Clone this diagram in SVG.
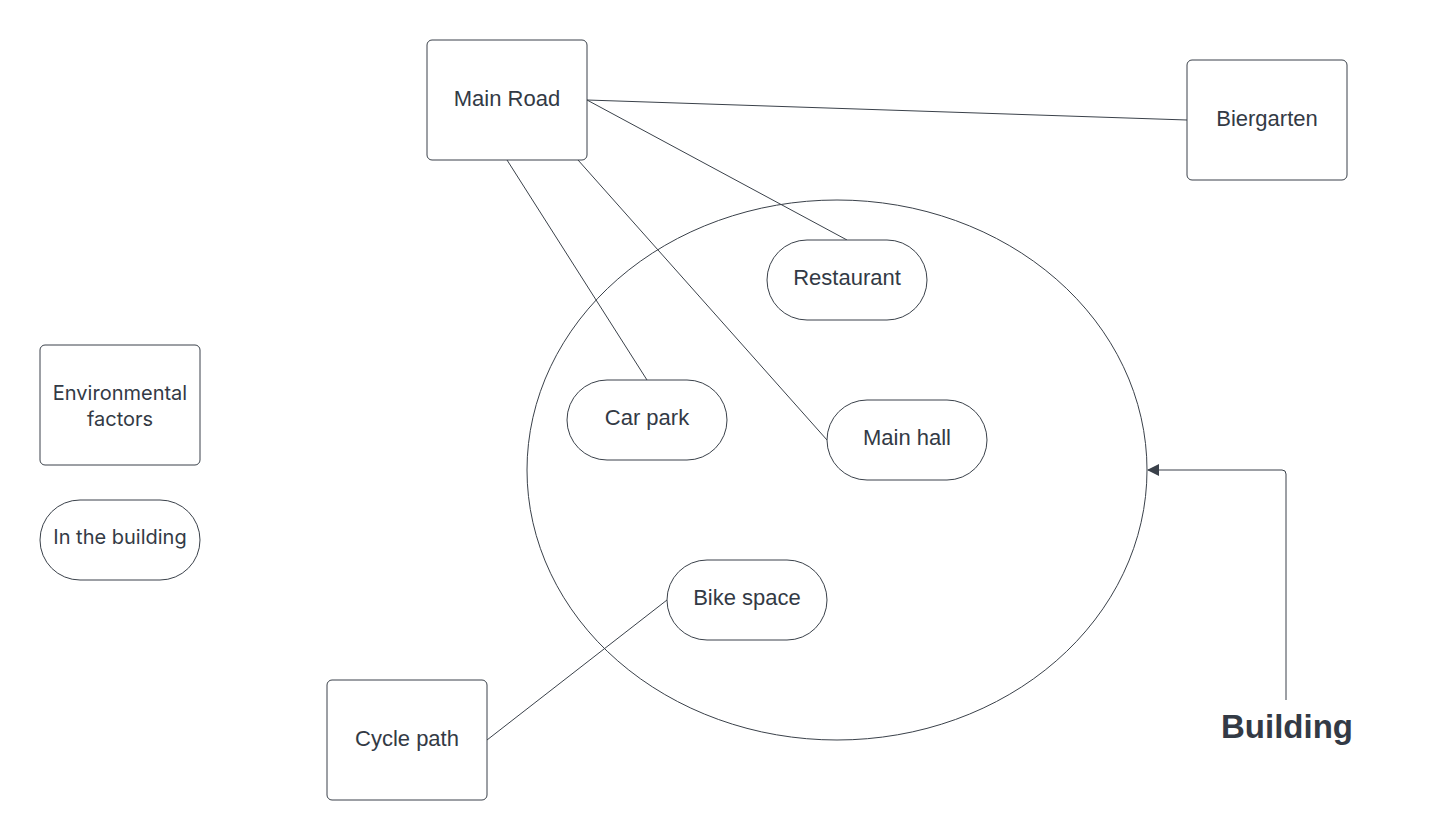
<svg xmlns="http://www.w3.org/2000/svg" width="1447" height="840" viewBox="0 0 1447 840">
<style>
.box{fill:#fff;stroke:#3a414a;stroke-width:1}
.lbl{font-family:"Liberation Sans",Arial,sans-serif;font-size:22px;fill:#333a45;text-anchor:middle}
.lg{font-family:Inter,"Liberation Sans",sans-serif;font-size:20px;fill:#333a45;text-anchor:middle}
.ln{fill:none;stroke:#3a414a;stroke-width:1}
</style>
<defs>
<marker id="ah" markerWidth="12" markerHeight="12" refX="11" refY="6" orient="auto" markerUnits="userSpaceOnUse">
<path d="M0,0 L12,6 L0,12 Z" fill="#3a414a"/>
</marker>
</defs>
<rect width="1447" height="840" fill="#fff"/>
<g id="building-ellipse"><ellipse cx="837" cy="470" rx="310" ry="270" class="ln"/></g>
<g id="connectors">
<line x1="587" y1="100" x2="1187" y2="120" class="ln"/>
<line x1="587" y1="100" x2="847" y2="240" class="ln"/>
<line x1="507" y1="160" x2="647" y2="380" class="ln"/>
<line x1="578" y1="160" x2="827" y2="440" class="ln"/>
<line x1="487" y1="740" x2="667" y2="600" class="ln"/>
<path d="M1286,700 L1286,474 Q1286,470 1282,470 L1148,470" class="ln" stroke="#6b7280" marker-end="url(#ah)"/>
</g>
<g id="main-road"><rect x="427" y="40" width="160" height="120" rx="5" class="box"/><text x="507" y="106" class="lbl">Main Road</text></g>
<g id="biergarten"><rect x="1187" y="60" width="160" height="120" rx="5" class="box"/><text x="1267" y="126" class="lbl">Biergarten</text></g>
<g id="env"><rect x="40" y="345" width="160" height="120" rx="5" class="box"/><text x="120" y="400" class="lg">Environmental</text><text x="120" y="426" class="lg">factors</text></g>
<g id="in-building"><rect x="40" y="500" width="160" height="80" rx="40" class="box"/><text x="120" y="544" class="lg">In the building</text></g>
<g id="restaurant"><rect x="767" y="240" width="160" height="80" rx="40" class="box"/><text x="847" y="285" class="lbl">Restaurant</text></g>
<g id="car-park"><rect x="567" y="380" width="160" height="80" rx="40" class="box"/><text x="647" y="425" class="lbl">Car park</text></g>
<g id="main-hall"><rect x="827" y="400" width="160" height="80" rx="40" class="box"/><text x="907" y="445" class="lbl">Main hall</text></g>
<g id="bike-space"><rect x="667" y="560" width="160" height="80" rx="40" class="box"/><text x="747" y="605" class="lbl">Bike space</text></g>
<g id="cycle-path"><rect x="327" y="680" width="160" height="120" rx="5" class="box"/><text x="407" y="746" class="lbl">Cycle path</text></g>
<g id="building-label"><text x="1287" y="738" font-family="Liberation Sans,Arial,sans-serif" font-size="33" font-weight="bold" fill="#333a45" text-anchor="middle">Building</text></g>
</svg>
